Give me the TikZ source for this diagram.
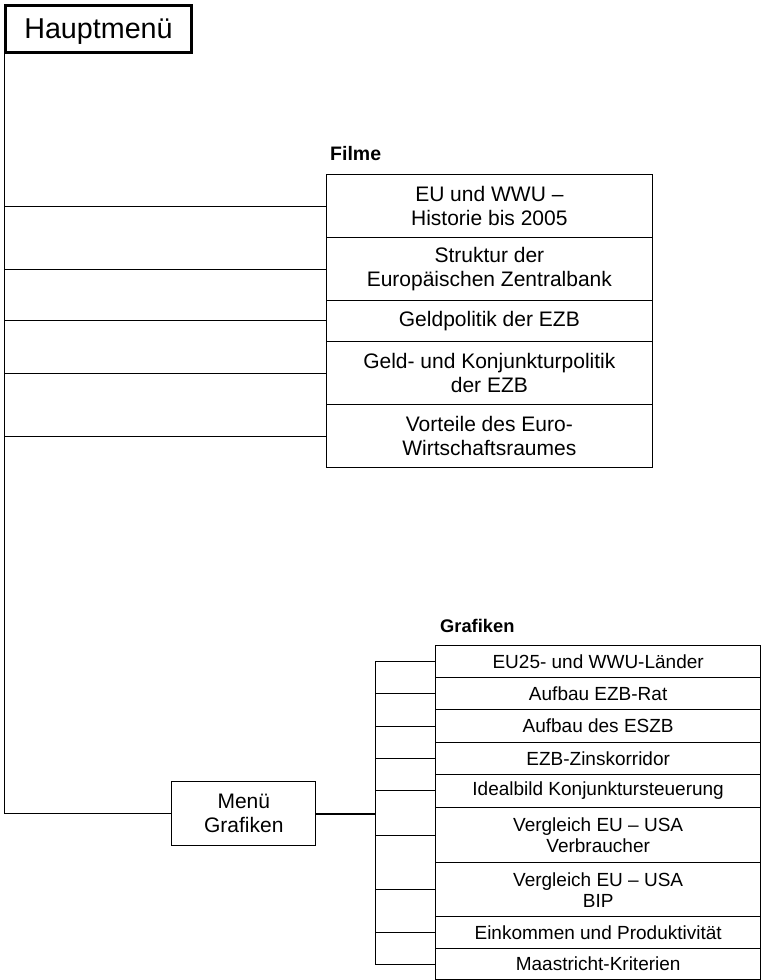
\documentclass[tikz,border=0pt]{standalone}
\usepackage{fontspec}
\setmainfont{Liberation Sans}
\begin{document}
\begin{tikzpicture}[x=1pt,y=-1pt,
  conn/.style={line width=1pt},
  hauptbox/.style={draw,line width=3pt,inner sep=0pt,minimum width=186pt,minimum height=47pt,text depth=0pt,anchor=north west,font=\fontsize{28.7}{32}\selectfont},
  filmbox/.style={draw,line width=1pt,inner sep=0pt,minimum width=325.7pt,anchor=north west,align=center,font=\fontsize{21}{24}\selectfont},
  grafbox/.style={draw,line width=1pt,inner sep=0pt,minimum width=324.7pt,anchor=north west,align=center,font=\fontsize{19}{21}\selectfont},
  menubox/.style={draw,line width=1pt,inner sep=0pt,minimum width=144pt,minimum height=64pt,anchor=north west,align=center,font=\fontsize{21}{24}\selectfont},
  grouplabel/.style={anchor=base west,inner sep=0pt,font=\bfseries}
]
\useasboundingbox (0,0) rectangle (762,980);

\node[hauptbox] (haupt) at (4,4) {Hauptmenü};

\node[grouplabel,font=\bfseries\fontsize{19.5}{22}\selectfont] (filme) at (330,160.7) {Filme};
\node[filmbox,minimum height=63pt] (f1) at (326,174.3) {EU und WWU –\\Historie bis 2005};
\node[filmbox,minimum height=62.7pt] (f2) at (326,237.3) {Struktur der\\Europäischen Zentralbank};
\node[filmbox,minimum height=40.7pt] (f3) at (326,300) {Geldpolitik der EZB};
\node[filmbox,minimum height=63.6pt] (f4) at (326,340.7) {Geld- und Konjunkturpolitik\\der EZB};
\node[filmbox,minimum height=62.4pt] (f5) at (326,404.3) {Vorteile des Euro-\\Wirtschaftsraumes};

\node[menubox] (mg) at (171.3,781) {Menü\\Grafiken};

\node[grouplabel,font=\bfseries\fontsize{18.3}{21}\selectfont] (grafiken) at (440,632.7) {Grafiken};
\node[grafbox,minimum height=32.3pt] (g1) at (435.3,645) {EU25- und WWU-Länder};
\node[grafbox,minimum height=32pt] (g2) at (435.3,677.3) {Aufbau EZB-Rat};
\node[grafbox,minimum height=32.4pt] (g3) at (435.3,709.3) {Aufbau des ESZB};
\node[grafbox,minimum height=32.3pt] (g4) at (435.3,741.7) {EZB-Zinskorridor};
\node[grafbox,minimum height=32.7pt] (g5) at (435.3,774) {Idealbild Konjunktursteuerung};
\node[grafbox,minimum height=55.6pt] (g6) at (435.3,806.7) {Vergleich EU – USA\\Verbraucher};
\node[grafbox,minimum height=53.7pt] (g7) at (435.3,862.3) {Vergleich EU – USA\\BIP};
\node[grafbox,minimum height=32.3pt] (g8) at (435.3,916) {Einkommen und Produktivität};
\node[grafbox,minimum height=30.7pt] (g9) at (435.3,948.3) {Maastricht-Kriterien};

% main trunk
\draw[conn] (haupt.south west) -- (haupt.south west |- mg.west) -- (mg.west);
\foreach \f in {f1,f2,f3,f4,f5}
  \draw[conn] (\f.west -| haupt.south west) -- (\f.west);

% Grafiken bracket
\coordinate (br) at (375,812);
\draw[line width=2pt] (mg.east) -- (mg.east -| br);
\draw[conn] (g1.west -| br) -- (g9.west -| br);
\foreach \g in {g1,g2,g3,g4,g5,g6,g7,g8,g9}
  \draw[conn] (\g.west -| br) -- (\g.west);
\end{tikzpicture}
\end{document}
